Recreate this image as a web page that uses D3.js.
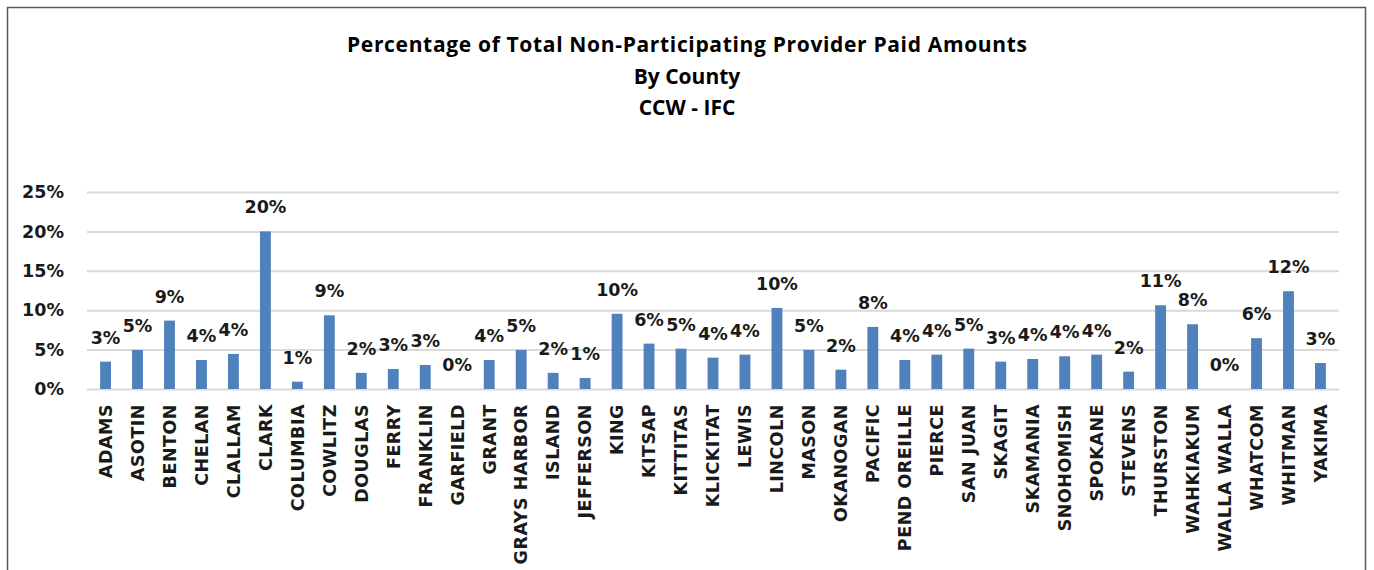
<!DOCTYPE html>
<html>
<head>
<meta charset="utf-8">
<script src="https://cdn.jsdelivr.net/npm/d3@7"></script>
<style>
  html, body { margin: 0; padding: 0; background: #fff; }
  svg { display: block; }
</style>
</head>
<body>
<svg id="chart" width="1374" height="570"></svg>
<script>
const titleLines = ['Percentage of Total Non-Participating Provider Paid Amounts', 'By County', 'CCW - IFC'];

const counties = ['ADAMS', 'ASOTIN', 'BENTON', 'CHELAN', 'CLALLAM', 'CLARK', 'COLUMBIA', 'COWLITZ',
  'DOUGLAS', 'FERRY', 'FRANKLIN', 'GARFIELD', 'GRANT', 'GRAYS HARBOR', 'ISLAND', 'JEFFERSON',
  'KING', 'KITSAP', 'KITTITAS', 'KLICKITAT', 'LEWIS', 'LINCOLN', 'MASON', 'OKANOGAN', 'PACIFIC',
  'PEND OREILLE', 'PIERCE', 'SAN JUAN', 'SKAGIT', 'SKAMANIA', 'SNOHOMISH', 'SPOKANE', 'STEVENS',
  'THURSTON', 'WAHKIAKUM', 'WALLA WALLA', 'WHATCOM', 'WHITMAN', 'YAKIMA'];

// percent of total paid amounts
const pctPaid = [3.47, 4.96, 8.68, 3.68, 4.45, 20.0, 0.93, 9.35,
  2.05, 2.54, 3.05, 0, 3.68, 4.96, 2.05, 1.4,
  9.55, 5.76, 5.12, 3.98, 4.36, 10.29, 4.96, 2.45, 7.88,
  3.68, 4.36, 5.12, 3.47, 3.81, 4.15, 4.36, 2.2,
  10.63, 8.22, 0, 6.45, 12.41, 3.3];

const yTicks = [0, 5, 10, 15, 20, 25];

const chartData = counties.map((c, i) => ({ county: c, value: pctPaid[i] }));

const svg = d3.select('#chart');
const width = 1374;
const margin = { top: 192, right: 35, bottom: 181, left: 87 };
const plotBottom = 389;

// outer frame
svg.append('rect')
  .attr('x', 7.5).attr('y', 7.5)
  .attr('width', 1358).attr('height', 580)
  .attr('fill', 'none')
  .attr('stroke', '#595959')
  .attr('stroke-width', 1.5);

// title
svg.append('g')
  .selectAll('text')
  .data(titleLines)
  .join('text')
  .attr('x', 687)
  .attr('y', (d, i) => 52 + i * 31.5)
  .attr('text-anchor', 'middle')
  .attr('textLength', (d, i) => i === 0 ? 680 : null)
  .style('font-family', '"Open Sans", Lato, sans-serif')
  .style('font-weight', 'bold')
  .style('font-size', '21px')
  .style('fill', '#000')
  .text(d => d);

const scaleX = d3.scaleBand()
  .domain(counties)
  .range([margin.left, width - margin.right])
  .paddingInner(0.66)
  .paddingOuter(0.41);

const scaleY = d3.scaleLinear()
  .domain([0, 25])
  .range([plotBottom, margin.top]);

// gridlines
svg.append('g')
  .attr('class', 'grid')
  .attr('transform', 'translate(' + margin.left + ',0)')
  .call(d3.axisLeft(scaleY).tickValues(yTicks).tickSize(-(width - margin.right - margin.left)).tickFormat(''))
  .call(g => g.select('.domain').remove())
  .call(g => g.selectAll('line').attr('stroke', '#d9d9d9').attr('stroke-width', 2));

// y axis labels
svg.append('g')
  .attr('class', 'y axis')
  .attr('transform', 'translate(' + margin.left + ',0)')
  .call(d3.axisLeft(scaleY).tickValues(yTicks).tickSize(0).tickPadding(23).tickFormat(d => d + '%'))
  .call(g => g.select('.domain').remove())
  .call(g => g.selectAll('text')
    .style('font-family', '"DejaVu Sans", sans-serif')
    .style('font-weight', 'bold')
    .style('font-size', '17.5px')
    .style('fill', '#1a1a1a'));

// bars
svg.append('g')
  .selectAll('rect')
  .data(chartData)
  .join('rect')
  .attr('x', d => scaleX(d.county))
  .attr('y', d => scaleY(d.value))
  .attr('width', scaleX.bandwidth())
  .attr('height', d => plotBottom - scaleY(d.value))
  .attr('fill', '#4f81bd');

// data labels
svg.append('g')
  .selectAll('text')
  .data(chartData)
  .join('text')
  .attr('x', d => scaleX(d.county) + scaleX.bandwidth() / 2)
  .attr('y', d => scaleY(d.value) - 18)
  .attr('text-anchor', 'middle')
  .style('font-family', '"DejaVu Sans", sans-serif')
  .style('font-weight', 'bold')
  .style('font-size', '17.5px')
  .style('fill', '#1a1a1a')
  .text(d => Math.round(d.value) + '%');

// x axis labels
svg.append('g')
  .attr('class', 'x axis')
  .attr('transform', 'translate(0,' + plotBottom + ')')
  .call(d3.axisBottom(scaleX).tickSize(0))
  .call(g => g.select('.domain').remove())
  .call(g => g.selectAll('text')
    .attr('transform', 'rotate(-90)')
    .attr('x', -15)
    .attr('y', 0)
    .attr('dy', '0.36em')
    .style('text-anchor', 'end')
    .style('font-family', '"DejaVu Sans", sans-serif')
    .style('font-weight', 'bold')
    .style('font-size', '17.5px')
    .style('letter-spacing', '0.5px')
    .style('fill', '#1a1a1a'));
</script>
</body>
</html>
